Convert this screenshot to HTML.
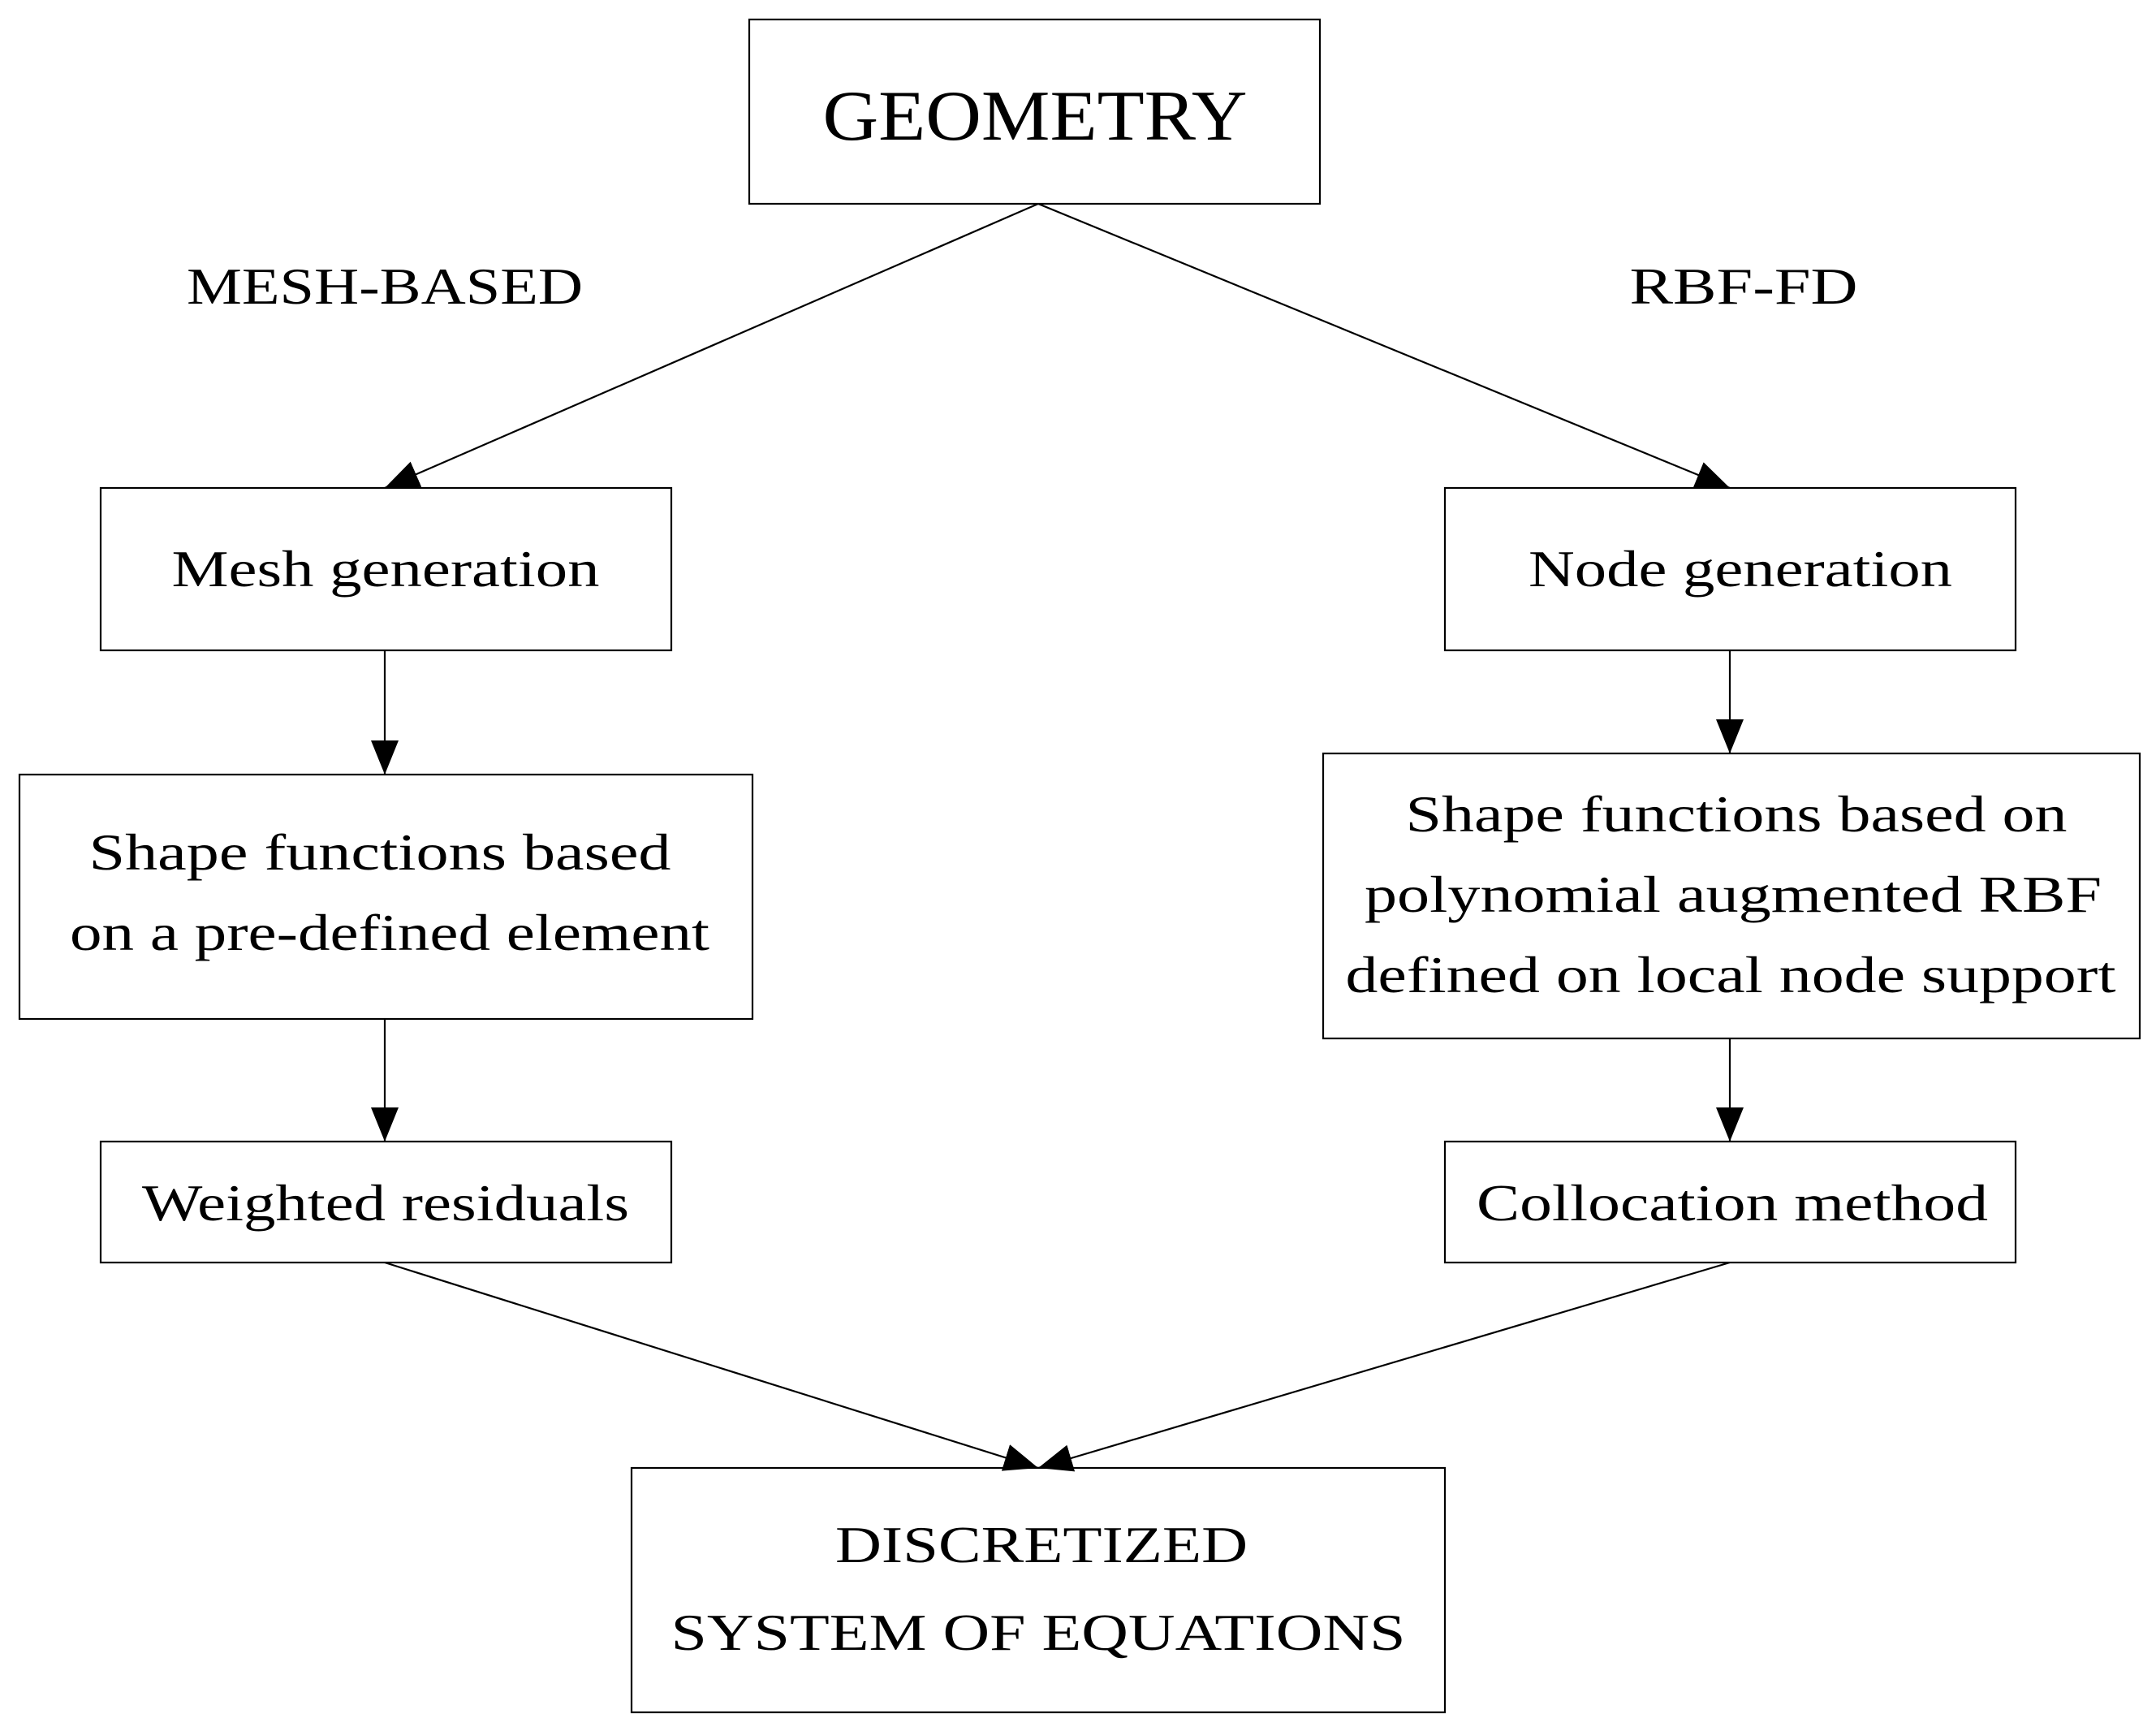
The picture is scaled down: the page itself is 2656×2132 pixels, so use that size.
<!DOCTYPE html>
<html><head><meta charset="utf-8"><style>
html,body{margin:0;padding:0;background:#fff}
svg{display:block}
text{font-family:"Liberation Serif",serif;font-size:64px;fill:#000;text-anchor:middle}
</style></head><body>
<svg width="2656" height="2132" viewBox="0 0 2656 2132" xmlns="http://www.w3.org/2000/svg">
<defs><marker id="a" markerWidth="42" markerHeight="34" refX="42" refY="17" orient="auto" markerUnits="userSpaceOnUse"><path d="M0,0 L42,17 L0,34 Z" fill="#000"/></marker></defs>
<g fill="none" stroke="#000" stroke-width="2.2">
<rect x="923" y="24" width="703" height="227"/>
<rect x="124" y="601" width="703" height="200"/>
<rect x="1780" y="601" width="703" height="200"/>
<rect x="24" y="954" width="903" height="301"/>
<rect x="1630" y="928" width="1006" height="351"/>
<rect x="124" y="1406" width="703" height="149"/>
<rect x="1780" y="1406" width="703" height="149"/>
<rect x="778" y="1808" width="1002" height="301"/>
<line x1="1279" y1="251" x2="474" y2="601" marker-end="url(#a)"/>
<line x1="1279" y1="251" x2="2131" y2="601" marker-end="url(#a)"/>
<line x1="474" y1="801" x2="474" y2="954" marker-end="url(#a)"/>
<line x1="474" y1="1255" x2="474" y2="1406" marker-end="url(#a)"/>
<line x1="2131" y1="801" x2="2131" y2="928" marker-end="url(#a)"/>
<line x1="2131" y1="1279" x2="2131" y2="1406" marker-end="url(#a)"/>
<line x1="474" y1="1555" x2="1279" y2="1808" marker-end="url(#a)"/>
<line x1="2131" y1="1555" x2="1279" y2="1808" marker-end="url(#a)"/>
</g>
<text x="1275" y="172" style="font-size:88px" textLength="523" lengthAdjust="spacingAndGlyphs">GEOMETRY</text>
<text x="474" y="374" textLength="488" lengthAdjust="spacingAndGlyphs">MESH-BASED</text>
<text x="2148" y="374" textLength="281" lengthAdjust="spacingAndGlyphs">RBF-FD</text>
<text x="475" y="722" textLength="527" lengthAdjust="spacingAndGlyphs">Mesh generation</text>
<text x="2144" y="722" textLength="522" lengthAdjust="spacingAndGlyphs">Node generation</text>
<text x="468" y="1071" textLength="717" lengthAdjust="spacingAndGlyphs">Shape functions based</text>
<text x="480" y="1170" textLength="788" lengthAdjust="spacingAndGlyphs">on a pre-defined element</text>
<text x="2139" y="1024" textLength="815" lengthAdjust="spacingAndGlyphs">Shape functions based on</text>
<text x="2135" y="1123" textLength="908" lengthAdjust="spacingAndGlyphs">polynomial augmented RBF</text>
<text x="2132" y="1222" textLength="949" lengthAdjust="spacingAndGlyphs">defined on local node support</text>
<text x="475" y="1503" textLength="600" lengthAdjust="spacingAndGlyphs">Weighted residuals</text>
<text x="2134" y="1503" textLength="630" lengthAdjust="spacingAndGlyphs">Collocation method</text>
<text x="1283" y="1924" textLength="508" lengthAdjust="spacingAndGlyphs">DISCRETIZED</text>
<text x="1279" y="2032" textLength="905" lengthAdjust="spacingAndGlyphs">SYSTEM OF EQUATIONS</text>
</svg>
</body></html>
